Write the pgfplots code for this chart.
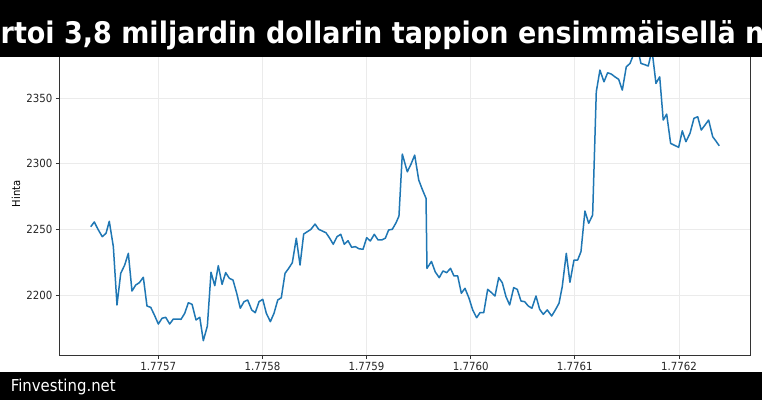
\documentclass[border=0pt]{standalone}
\usepackage{pgfplots}
\pgfplotsset{compat=1.18}
\usepackage{fontspec}
\setmainfont{DejaVu Sans}
\definecolor{tabblue}{HTML}{1F77B4}
\definecolor{spine}{HTML}{333333}
\definecolor{gridc}{HTML}{EBEBEB}
\newcommand{\vs}[1]{\scalebox{1}[1.1]{#1}}
\begin{document}
\begin{tikzpicture}
\useasboundingbox (0pt,0pt) rectangle (762pt,400pt);
\clip (0pt,0pt) rectangle (762pt,400pt);
\fill[white] (0pt,0pt) rectangle (762pt,400pt);
\begin{axis}[
  at={(59.3pt,44.6pt)}, anchor=south west,
  width=691.4pt, height=323.1pt, scale only axis,
  xmin=6.049, xmax=12.689, ymin=2154, ymax=2400,
  xtick={7,8,9,10,11,12},
  xticklabels={\vs{1.7757},\vs{1.7758},\vs{1.7759},\vs{1.7760},\vs{1.7761},\vs{1.7762}},
  ytick={2200,2250,2300,2350},
  yticklabels={\vs{2200},\vs{2250},\vs{2300},\vs{2350}},
  tick align=outside, tick pos=left,
  major tick length=3.5pt,
  grid=major,
  major grid style={color=gridc, line width=0.8pt},
  axis line style={color=spine, line width=1pt},
  every tick/.style={color=spine, line width=0.8pt},
  tick label style={font=\fontsize{10.2}{12}\selectfont, color=black!85},
  ylabel={\vs{Hinta}},
  ylabel style={font=\fontsize{10.2}{12}\selectfont, color=black!85},
  every axis y label/.style={at={(axis description cs:-0.0568,0.5)}, rotate=90, anchor=base},
]
\addplot[color=tabblue, line width=1.5pt, line join=round, mark=none] table {
x y
6.351 2252.0
6.385 2255.6
6.422 2249.8
6.462 2244.4
6.498 2247.0
6.529 2256.1
6.568 2236.8
6.603 2192.4
6.639 2216.5
6.677 2222.8
6.712 2231.7
6.747 2203.0
6.783 2207.6
6.818 2209.4
6.856 2213.5
6.891 2191.6
6.927 2190.6
6.962 2184.8
7.000 2177.9
7.036 2182.3
7.071 2183.0
7.109 2177.9
7.144 2181.7
7.180 2181.7
7.218 2181.5
7.254 2186.1
7.288 2194.1
7.324 2192.9
7.362 2181.0
7.398 2183.0
7.432 2165.2
7.471 2176.4
7.506 2217.3
7.542 2207.1
7.576 2222.3
7.612 2208.1
7.647 2217.0
7.682 2212.7
7.717 2211.4
7.753 2201.3
7.787 2189.9
7.823 2194.9
7.858 2196.2
7.897 2188.6
7.931 2186.5
7.967 2194.9
8.003 2196.7
8.037 2186.1
8.076 2179.7
8.111 2186.1
8.147 2196.2
8.181 2197.9
8.217 2216.5
8.252 2220.3
8.287 2224.6
8.325 2243.2
8.361 2222.8
8.396 2246.4
8.431 2248.2
8.466 2250.0
8.505 2254.0
8.540 2250.0
8.575 2248.7
8.610 2247.4
8.646 2243.2
8.680 2238.6
8.716 2244.4
8.752 2246.2
8.786 2238.6
8.822 2241.3
8.857 2236.3
8.892 2236.8
8.927 2235.2
8.966 2234.8
9.001 2243.6
9.036 2241.1
9.074 2246.2
9.110 2241.9
9.145 2241.9
9.180 2243.2
9.212 2249.5
9.247 2250.0
9.283 2255.0
9.311 2260.1
9.343 2307.3
9.391 2293.8
9.427 2299.7
9.462 2306.5
9.501 2287.5
9.535 2280.4
9.571 2273.6
9.580 2220.3
9.623 2225.5
9.660 2217.5
9.698 2213.2
9.734 2218.3
9.769 2217.0
9.806 2220.3
9.839 2214.5
9.875 2214.5
9.910 2201.3
9.945 2205.1
9.984 2197.5
10.019 2188.6
10.057 2182.7
10.089 2186.5
10.125 2186.5
10.163 2204.3
10.198 2201.9
10.233 2199.2
10.269 2213.2
10.303 2209.4
10.339 2198.7
10.374 2192.4
10.413 2205.6
10.447 2204.3
10.483 2195.4
10.518 2194.9
10.553 2191.6
10.588 2189.9
10.627 2199.2
10.662 2189.1
10.697 2185.3
10.735 2188.6
10.778 2184.0
10.809 2188.1
10.848 2193.7
10.879 2206.3
10.918 2231.7
10.953 2209.7
10.992 2226.6
11.027 2226.6
11.059 2233.0
11.097 2263.9
11.133 2254.6
11.171 2260.9
11.206 2354.7
11.241 2371.2
11.280 2362.3
11.315 2369.2
11.350 2368.2
11.385 2366.1
11.421 2364.2
11.456 2356.0
11.494 2373.7
11.530 2376.3
11.565 2383.4
11.600 2388.7
11.635 2376.3
11.671 2375.4
11.705 2374.3
11.741 2386.5
11.779 2361.1
11.815 2366.1
11.849 2333.2
11.882 2337.7
11.920 2315.4
11.959 2313.9
11.997 2312.4
12.032 2325.0
12.067 2316.7
12.106 2323.1
12.144 2334.5
12.180 2335.7
12.214 2325.6
12.250 2329.4
12.285 2333.2
12.324 2320.5
12.355 2317.2
12.387 2313.6
};
\end{axis}
\fill[black] (0pt,343.3pt) rectangle (762pt,400pt);
\fill[black] (0pt,0pt) rectangle (762pt,28.3pt);
\node[anchor=base west, inner sep=0pt, text=white, font=\fontsize{27}{30}\selectfont\bfseries] at (0.5pt,356.7pt) {\vs{rtoi 3,8 miljardin dollarin tappion ensimmäisellä neljänneksellä}};
\node[anchor=base west, inner sep=0pt, text=white, font=\fontsize{14.9}{17}\selectfont] at (10.6pt,8.3pt) {\vs{Finvesting.net}};
\end{tikzpicture}
\end{document}
